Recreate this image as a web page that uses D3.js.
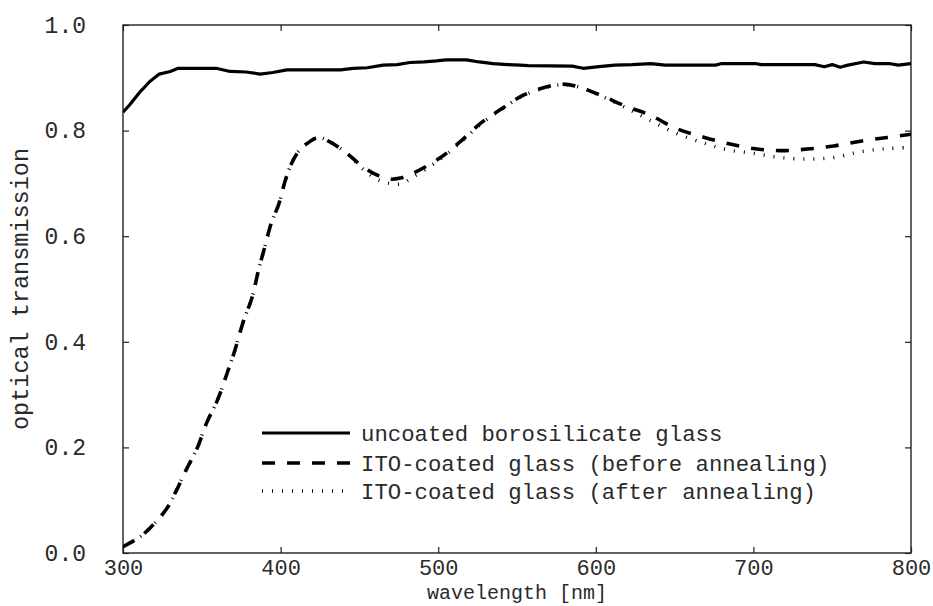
<!DOCTYPE html>
<html>
<head>
<meta charset="utf-8">
<script src="https://cdn.jsdelivr.net/npm/d3@7"></script>
<style>
  html, body { margin: 0; padding: 0; background: #fff; }
  svg { display: block; }
  text { font-family: "Liberation Mono", "Courier New", monospace; fill: #2a2a2a; }
</style>
</head>
<body>
<svg id="chart" width="933" height="606"></svg>
<script>
// ---- data ----
const glassWl = [300,304,311,317,323,330,335,359,368,378,387,395,404,438,446,455,465,474,482,491,499,505,518,526,535,544,552,557,585,592,602,612,623,635,644,676,680,701,705,739,745,750,755,760,770,777,786,792,800];
const glassT  = [0.835,0.848,0.874,0.893,0.907,0.912,0.918,0.918,0.912,0.911,0.907,0.910,0.915,0.915,0.918,0.919,0.924,0.925,0.929,0.930,0.932,0.934,0.934,0.930,0.927,0.925,0.924,0.923,0.922,0.918,0.921,0.924,0.925,0.927,0.924,0.924,0.927,0.927,0.925,0.925,0.921,0.925,0.920,0.924,0.930,0.927,0.927,0.924,0.927];

const itoWl = [300,311,319,328,334,340,347,353,360,366,371,376,382,386,390,394,399,403,407,412,417,424,431,442,452,461,469,476,484,501,514,527,539,554,569,579,590,603,620,634,651,668,683,700,717,734,751,768,785,800];
const itoBefore = [0.012,0.031,0.053,0.085,0.119,0.157,0.198,0.246,0.290,0.340,0.384,0.435,0.485,0.536,0.580,0.624,0.662,0.706,0.738,0.763,0.776,0.787,0.779,0.757,0.732,0.716,0.708,0.710,0.719,0.748,0.779,0.814,0.839,0.867,0.883,0.888,0.882,0.867,0.845,0.830,0.804,0.788,0.776,0.766,0.762,0.765,0.771,0.780,0.787,0.793];
const itoAfter  = [0.012,0.031,0.053,0.085,0.119,0.157,0.198,0.246,0.290,0.340,0.384,0.435,0.485,0.536,0.580,0.624,0.662,0.706,0.738,0.763,0.776,0.787,0.779,0.757,0.728,0.708,0.700,0.699,0.712,0.745,0.777,0.812,0.838,0.866,0.882,0.887,0.882,0.866,0.842,0.820,0.795,0.777,0.764,0.757,0.749,0.746,0.749,0.760,0.766,0.768];

const xTicks = [300,400,500,600,700,800];
const yTicks = [0.0,0.2,0.4,0.6,0.8,1.0];
const seriesNames = ["uncoated borosilicate glass","ITO-coated glass (before annealing)","ITO-coated glass (after annealing)"];
const xLabel = "wavelength [nm]";
const yLabel = "optical transmission";

// ---- layout ----
const L = 123, R = 911, T = 25, B = 553;
const svg = d3.select("#chart");
const x = d3.scaleLinear().domain([300,800]).range([L,R]);
const y = d3.scaleLinear().domain([0,1]).range([B,T]);

svg.append("defs").append("clipPath").attr("id","clip")
  .append("rect").attr("x",L).attr("y",T).attr("width",R-L).attr("height",B-T);

// axes (ticks pointing inward, mirrored)
const tickLen = 6;
const axB = svg.append("g").attr("transform",`translate(0,${B})`)
  .call(d3.axisBottom(x).tickValues(xTicks).tickSizeInner(-tickLen).tickSizeOuter(0).tickFormat(d3.format("d")));
const axT = svg.append("g").attr("transform",`translate(0,${T})`)
  .call(d3.axisTop(x).tickValues(xTicks).tickSizeInner(-tickLen).tickSizeOuter(0).tickFormat(""));
const axL = svg.append("g").attr("transform",`translate(${L},0)`)
  .call(d3.axisLeft(y).tickValues(yTicks).tickSizeInner(-tickLen).tickSizeOuter(0).tickPadding(37).tickFormat(d3.format(".1f")));
const axR = svg.append("g").attr("transform",`translate(${R},0)`)
  .call(d3.axisRight(y).tickValues(yTicks).tickSizeInner(-tickLen).tickSizeOuter(0).tickFormat(""));

[axB,axT,axL,axR].forEach(a => {
  a.select(".domain").remove();
  a.selectAll(".tick line").attr("stroke","#222").attr("stroke-width",1.2);
  a.selectAll(".tick text").attr("fill","#2a2a2a").style("font-size","23px")
   .style("font-family",'"Liberation Mono", monospace');
});
axB.selectAll(".tick text").style("font-size","22px").attr("y", 21.6).attr("dy", 0);

svg.append("rect").attr("x",L).attr("y",T).attr("width",R-L).attr("height",B-T)
  .attr("fill","none").attr("stroke","#222").attr("stroke-width",1.4);

// lines
const g = svg.append("g").attr("clip-path","url(#clip)");
const lineLin = d3.line().x(d=>x(d[0])).y(d=>y(d[1]));
const lineSmooth = d3.line().x(d=>x(d[0])).y(d=>y(d[1])).curve(d3.curveCatmullRom);

g.append("path").datum(glassWl.map((w,i)=>[w,glassT[i]]))
  .attr("d",lineLin).attr("fill","none").attr("stroke","#000").attr("stroke-width",3.2).attr("stroke-linejoin","round");
g.append("path").datum(itoWl.map((w,i)=>[w,itoAfter[i]]))
  .attr("d",lineSmooth).attr("fill","none").attr("stroke","#000").attr("stroke-width",3.5)
  .attr("stroke-dasharray","1 9");
g.append("path").datum(itoWl.map((w,i)=>[w,itoBefore[i]]))
  .attr("d",lineSmooth).attr("fill","none").attr("stroke","#000").attr("stroke-width",3.6)
  .attr("stroke-dasharray","13 12");

// legend
const styles = [
  {w:3.2, dash:null},
  {w:3.6, dash:"13 12"},
  {w:3.5, dash:"1 9"}
];
const legY = [433, 463, 491];
const leg = svg.append("g");
seriesNames.forEach((name,i) => {
  const ln = leg.append("line").attr("x1",262).attr("x2",350).attr("y1",legY[i]).attr("y2",legY[i])
    .attr("stroke","#000").attr("stroke-width",styles[i].w);
  if (styles[i].dash) ln.attr("stroke-dasharray",styles[i].dash);
  leg.append("text").attr("x",361).attr("y",legY[i]).attr("dy","0.35em")
    .style("font-size","22.3px").text(name);
});

// axis titles
svg.append("text").attr("x",(L+R)/2).attr("y",598.5).attr("text-anchor","middle")
  .style("font-size","20px").text(xLabel);
svg.append("text").attr("transform",`translate(28,${(T+B)/2}) rotate(-90)`).attr("text-anchor","middle")
  .style("font-size","23.5px").text(yLabel);
</script>
</body>
</html>
